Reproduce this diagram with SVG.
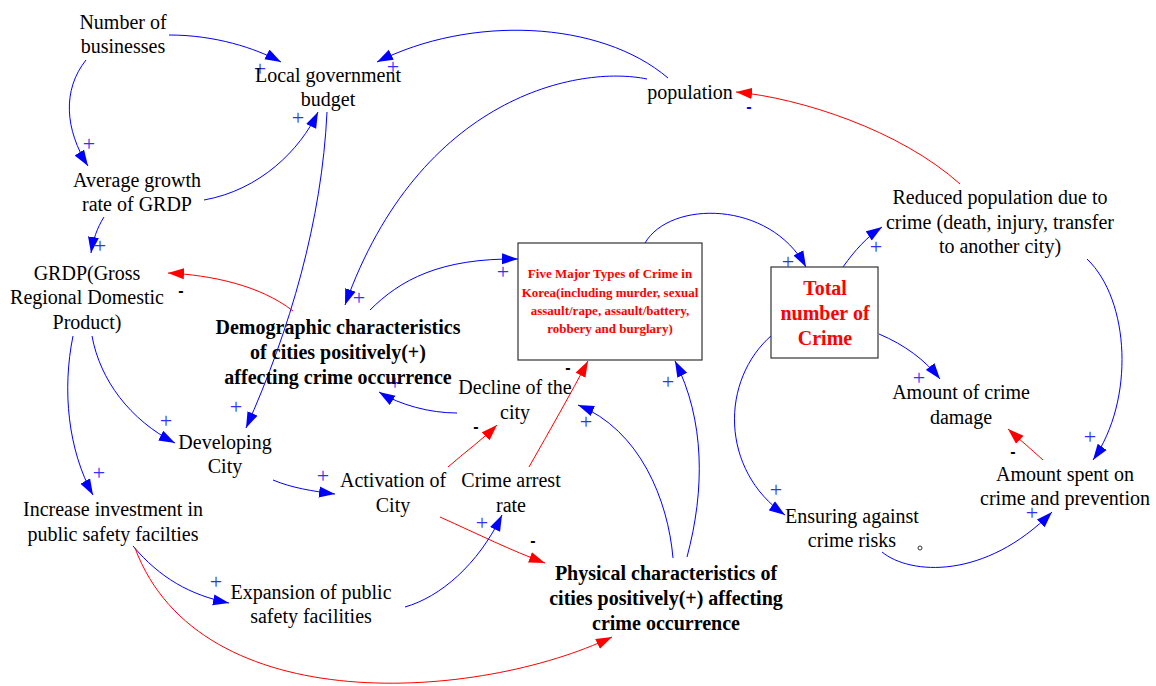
<svg xmlns="http://www.w3.org/2000/svg" width="1156" height="686" viewBox="0 0 1156 686">
<defs>
<marker id="ab" markerUnits="userSpaceOnUse" markerWidth="17" markerHeight="12" refX="16" refY="6" orient="auto"><path d="M0,0.5 L16,6 L0,11.5 z" fill="#0000ff"/></marker>
<marker id="ar" markerUnits="userSpaceOnUse" markerWidth="17" markerHeight="12" refX="16" refY="6" orient="auto"><path d="M0,0.5 L16,6 L0,11.5 z" fill="#ff0000"/></marker>
<style>
.t{font-family:"Liberation Serif","Times New Roman",serif;font-size:20px;fill:#000;text-anchor:middle}
.b{font-weight:bold}
.r{fill:#ff0000}
.s{font-size:13px}
.bl{fill:none;stroke:#0000ff;stroke-width:1;marker-end:url(#ab)}
.rd{fill:none;stroke:#ff0000;stroke-width:1;marker-end:url(#ar)}
.p{font-family:"Liberation Serif","Times New Roman",serif;font-size:22px;fill:#3030ff;text-anchor:middle}
.m{font-family:"Liberation Sans",sans-serif;font-size:16px;font-weight:bold;fill:#000;text-anchor:middle}
.box{fill:#fff;stroke:#333;stroke-width:1.2}
</style>
</defs>
<rect width="1156" height="686" fill="#fff"/>
<g id="connectors">
<path class="bl" d="M169,35 C215,35 255,48 281,62"/>
<path class="bl" d="M86,60 C62,90 65,130 88,166"/>
<path class="bl" d="M668,78 C600,20 470,15 377,62"/>
<path class="bl" d="M647,79 C580,65 420,95 345,305"/>
<path class="bl" d="M204,200 C260,190 300,150 318,112"/>
<path class="bl" d="M327,112 C322,220 290,330 246,428"/>
<path class="bl" d="M104,217 C97,228 93,240 91,253"/>
<path class="rd" d="M293,311 C260,285 210,275 168,273"/>
<path class="bl" d="M370,310 C400,280 440,258 518,259"/>
<path class="bl" d="M92,336 C100,380 130,420 175,443"/>
<path class="bl" d="M73,336 C62,390 68,450 93,495"/>
<path class="bl" d="M273,480 C292,488 312,491 335,494"/>
<path class="bl" d="M457,413 C430,413 400,405 379,392"/>
<path class="rd" d="M448,467 C465,452 482,440 497,425"/>
<path class="rd" d="M529,467 C550,430 570,395 588,361"/>
<path class="rd" d="M440,517 C480,535 510,550 545,563"/>
<path class="bl" d="M405,607 C440,597 478,565 502,515"/>
<path class="bl" d="M133,546 C160,578 190,595 229,603"/>
<path class="rd" d="M135,548 C200,722 480,700 612,637"/>
<path class="bl" d="M673,558 C668,500 640,430 578,405"/>
<path class="bl" d="M687,557 C705,490 705,420 675,361"/>
<path class="bl" d="M645,243 C670,200 770,200 806,267"/>
<path class="bl" d="M843,267 C855,250 867,237 882,227"/>
<path class="rd" d="M960,184 C900,130 800,98 736,92"/>
<path class="bl" d="M1087,259 C1130,300 1135,400 1093,460"/>
<path class="bl" d="M879,334 C905,345 925,360 940,379"/>
<path class="rd" d="M1043,460 C1030,448 1020,440 1008,429"/>
<path class="bl" d="M772,335 C720,380 720,470 785,515"/>
<path class="bl" d="M882,552 C910,575 985,580 1052,512"/>
</g>
<g id="polarities">
<text class="p" x="260" y="76">+</text>
<text class="p" x="393" y="74">+</text>
<text class="p" x="298" y="125">+</text>
<text class="p" x="89" y="151">+</text>
<text class="p" x="100" y="253">+</text>
<text class="p" x="359" y="305">+</text>
<text class="p" x="236" y="414">+</text>
<text class="p" x="166" y="428">+</text>
<text class="p" x="503" y="279">+</text>
<text class="p" x="395" y="390">+</text>
<text class="p" x="99" y="480">+</text>
<text class="p" x="323" y="483">+</text>
<text class="p" x="216" y="589">+</text>
<text class="p" x="482" y="530">+</text>
<text class="p" x="586" y="429">+</text>
<text class="p" x="668" y="389">+</text>
<text class="p" x="788" y="269">+</text>
<text class="p" x="876" y="254">+</text>
<text class="p" x="919" y="385">+</text>
<text class="p" x="1090" y="444">+</text>
<text class="p" x="776" y="497">+</text>
<text class="p" x="1032" y="520">+</text>
<text class="m" x="749" y="112" style="fill:#0000ff">-</text>
<text class="m" x="181" y="296">-</text>
<text class="m" x="476" y="432">-</text>
<text class="m" x="568" y="373">-</text>
<text class="m" x="533" y="546">-</text>
<text class="m" x="1013" y="457">-</text>
</g>
<g id="n_businesses"><text class="t" x="123" y="29">Number of</text><text class="t" x="123" y="53">businesses</text></g>
<g id="n_budget"><text class="t" x="328" y="82">Local government</text><text class="t" x="328" y="106">budget</text></g>
<g id="n_population"><text class="t" x="690" y="99">population</text></g>
<g id="n_avggrowth"><text class="t" x="137" y="187">Average growth</text><text class="t" x="137" y="211">rate of GRDP</text></g>
<g id="n_grdp"><text class="t" x="87" y="280">GRDP(Gross</text><text class="t" x="87" y="304">Regional Domestic</text><text class="t" x="87" y="329">Product)</text></g>
<g id="n_demographic"><text class="t b" x="338" y="334">Demographic characteristics</text><text class="t b" x="338" y="359">of cities positively(+)</text><text class="t b" x="338" y="384">affecting crime occurrence</text></g>
<g id="n_fivemajor"><rect class="box" x="518" y="243" width="184" height="117"/><text class="t b r s" x="610" y="278">Five Major Types of Crime in</text><text class="t b r s" x="610" y="297">Korea(including murder, sexual</text><text class="t b r s" x="610" y="315">assault/rape, assault/battery,</text><text class="t b r s" x="610" y="333">robbery and burglary)</text></g>
<g id="n_total"><rect class="box" x="771" y="267" width="107" height="91"/><text class="t b r" x="825" y="295">Total</text><text class="t b r" x="825" y="320">number of</text><text class="t b r" x="825" y="345">Crime</text></g>
<g id="n_reduced"><text class="t" x="1000" y="204">Reduced population due to</text><text class="t" x="1000" y="229">crime (death, injury, transfer</text><text class="t" x="1000" y="253">to another city)</text></g>
<g id="n_damage"><text class="t" x="961" y="399">Amount of crime</text><text class="t" x="961" y="424">damage</text></g>
<g id="n_spent"><text class="t" x="1065" y="481">Amount spent on</text><text class="t" x="1065" y="505">crime and prevention</text></g>
<g id="n_ensuring"><text class="t" x="852" y="523">Ensuring against</text><text class="t" x="852" y="547">crime risks</text><circle cx="920" cy="548" r="2" fill="none" stroke="#000" stroke-width="0.8"/></g>
<g id="n_decline"><text class="t" x="515" y="394">Decline of the</text><text class="t" x="515" y="419">city</text></g>
<g id="n_developing"><text class="t" x="225" y="449">Developing</text><text class="t" x="225" y="473">City</text></g>
<g id="n_activation"><text class="t" x="393" y="487">Activation of</text><text class="t" x="393" y="512">City</text></g>
<g id="n_arrest"><text class="t" x="511" y="487">Crime arrest</text><text class="t" x="511" y="512">rate</text></g>
<g id="n_investment"><text class="t" x="113" y="516">Increase investment in</text><text class="t" x="113" y="541">public safety facilties</text></g>
<g id="n_expansion"><text class="t" x="311" y="599">Expansion of public</text><text class="t" x="311" y="623">safety facilities</text></g>
<g id="n_physical"><text class="t b" x="666" y="580">Physical characteristics of</text><text class="t b" x="666" y="605">cities positively(+) affecting</text><text class="t b" x="666" y="630">crime occurrence</text></g>
</svg>
